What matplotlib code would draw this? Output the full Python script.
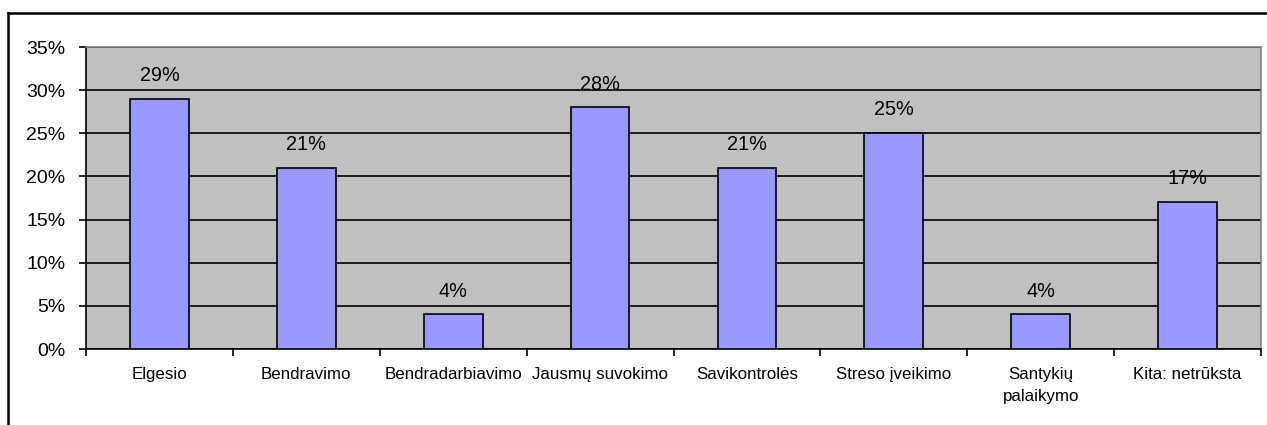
import matplotlib
matplotlib.use("Agg")
import matplotlib.pyplot as plt
from matplotlib.lines import Line2D
from matplotlib.ticker import FixedLocator, NullFormatter, PercentFormatter

categories = ["Elgesio", "Bendravimo", "Bendradarbiavimo", "Jausmų suvokimo",
              "Savikontrolės", "Streso įveikimo", "Santykių\npalaikymo", "Kita: netrūksta"]
values = [29, 21, 4, 28, 21, 25, 4, 17]
yticks = [0, 5, 10, 15, 20, 25, 30, 35]

plt.rcParams['font.family'] = ['Liberation Sans', 'DejaVu Sans']

W, H = 1267, 425
fig = plt.figure(figsize=(W / 100, H / 100), dpi=100)
ax = fig.add_axes([86 / W, 1 - 349 / H, (1261 - 86) / W, (349 - 47) / H])
ax.set_facecolor("#C0C0C0")

x = list(range(len(categories)))
ax.bar(x, values, width=0.4, color="#9999FF", edgecolor="black", linewidth=1.2, zorder=3)
for xi, v in zip(x, values):
    ax.annotate(f"{v}%", (xi, v), xytext=(0, 10), textcoords="offset points",
                ha="center", va="bottom", fontsize=14.3, zorder=4)

ax.set_xlim(-0.5, len(categories) - 0.5)
ax.set_ylim(0, 35)
ax.set_yticks(yticks)
ax.yaxis.set_major_formatter(PercentFormatter(decimals=0))
ax.yaxis.grid(True, color="black", linewidth=1.2, zorder=1)
ax.set_axisbelow(True)

ax.xaxis.set_major_locator(FixedLocator([i + 0.5 for i in range(-1, len(categories))]))
ax.xaxis.set_major_formatter(NullFormatter())
ax.xaxis.set_minor_locator(FixedLocator(x))
ax.set_xticklabels(categories, minor=True, linespacing=1.55)
ax.tick_params(axis="x", which="minor", length=0, pad=13, labelsize=12.2)
ax.tick_params(axis="x", which="major", length=5, width=1.2, direction="out")
ax.tick_params(axis="y", length=5, width=1.2, labelsize=14, pad=10)

for s in ["left", "bottom"]:
    ax.spines[s].set_color("black")
    ax.spines[s].set_linewidth(1.2)
for s in ["top", "right"]:
    ax.spines[s].set_color("#808080")
    ax.spines[s].set_linewidth(1.2)

# chart border (left and top visible)
fig.add_artist(Line2D([8 / W, 8 / W], [0, 1 - 13 / H], color="black", linewidth=1.8, transform=fig.transFigure))
fig.add_artist(Line2D([8 / W, 1], [1 - 13 / H, 1 - 13 / H], color="black", linewidth=1.8, transform=fig.transFigure))

fig.savefig("out.png", dpi=100)
